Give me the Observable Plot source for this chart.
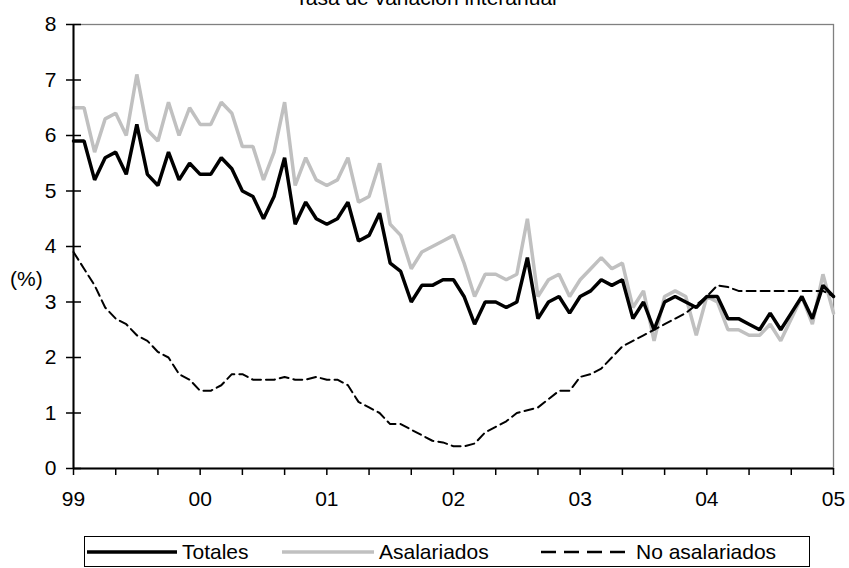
<!DOCTYPE html>
<html>
<head>
<meta charset="utf-8">
<script src="https://cdn.jsdelivr.net/npm/d3@7"></script>
<script src="https://cdn.jsdelivr.net/npm/@observablehq/plot@0.6"></script>
<style>
  html, body { margin: 0; padding: 0; background: white; }
  body { width: 849px; height: 568px; position: relative; overflow: hidden; font-family: "Liberation Sans", Arial, sans-serif; color: black; }
  #chart { position: absolute; left: 0; top: 0; }
  .abs { position: absolute; white-space: nowrap; line-height: 1; }
</style>
</head>
<body>
<div id="chart"></div>
<div class="abs" id="title" style="left:0; width:852px; text-align:center; top:-13px; font-size:21px;">Tasa de variación interanual</div>
<div class="abs" id="ylab" style="left:10px; top:268px; font-size:21px;">(%)</div>
<div id="legend" style="position:absolute; left:84px; top:536px; width:724px; height:29px; border:1px solid black; background:white;"></div>
<script>
// Monthly values, Jan 1999 .. Jan 2005 (73 months)
const yearLabels = ["99", "00", "01", "02", "03", "04", "05"];
const yTicks = [0, 1, 2, 3, 4, 5, 6, 7, 8];
const seriesNames = ["Totales", "Asalariados", "No asalariados"];

const totales = [
  5.9, 5.9, 5.2, 5.6, 5.7, 5.3, 6.2, 5.3, 5.1, 5.7, 5.2, 5.5,
  5.3, 5.3, 5.6, 5.4, 5.0, 4.9, 4.5, 4.9, 5.6, 4.4, 4.8, 4.5,
  4.4, 4.5, 4.8, 4.1, 4.2, 4.6, 3.7, 3.55, 3.0, 3.3, 3.3, 3.4,
  3.4, 3.1, 2.6, 3.0, 3.0, 2.9, 3.0, 3.8, 2.7, 3.0, 3.1, 2.8,
  3.1, 3.2, 3.4, 3.3, 3.4, 2.7, 3.0, 2.5, 3.0, 3.1, 3.0, 2.9,
  3.1, 3.1, 2.7, 2.7, 2.6, 2.5, 2.8, 2.5, 2.8, 3.1, 2.7, 3.3,
  3.1
];
const asalariados = [
  6.5, 6.5, 5.7, 6.3, 6.4, 6.0, 7.1, 6.1, 5.9, 6.6, 6.0, 6.5,
  6.2, 6.2, 6.6, 6.4, 5.8, 5.8, 5.2, 5.7, 6.6, 5.1, 5.6, 5.2,
  5.1, 5.2, 5.6, 4.8, 4.9, 5.5, 4.4, 4.2, 3.6, 3.9, 4.0, 4.1,
  4.2, 3.7, 3.1, 3.5, 3.5, 3.4, 3.5, 4.5, 3.1, 3.4, 3.5, 3.1,
  3.4, 3.6, 3.8, 3.6, 3.7, 2.9, 3.2, 2.3, 3.1, 3.2, 3.1, 2.4,
  3.1, 3.0, 2.5, 2.5, 2.4, 2.4, 2.6, 2.3, 2.7, 3.1, 2.6, 3.5,
  2.8
];
const noAsalariados = [
  3.9, 3.6, 3.3, 2.9, 2.7, 2.6, 2.4, 2.3, 2.1, 2.0, 1.7, 1.6,
  1.4, 1.4, 1.5, 1.7, 1.7, 1.6, 1.6, 1.6, 1.65, 1.6, 1.6, 1.65,
  1.6, 1.6, 1.5, 1.2, 1.1, 1.0, 0.8, 0.8, 0.7, 0.6, 0.5, 0.47,
  0.4, 0.4, 0.45, 0.65, 0.75, 0.85, 1.0, 1.05, 1.1, 1.25, 1.4, 1.4,
  1.65, 1.7, 1.8, 2.0, 2.2, 2.3, 2.4, 2.5, 2.6, 2.7, 2.8, 2.95,
  3.1, 3.3, 3.27, 3.2, 3.2, 3.2, 3.2, 3.2, 3.2, 3.2, 3.2, 3.2,
  3.1
];

const rows = totales.map((v, i) => ({i, tot: v, asal: asalariados[i], noasal: noAsalariados[i]}));
const nMonths = totales.length - 1;
const xTicks = d3.range(0, nMonths + 1, 4);

const W = 849, ML = 73, MR = 16;
const plotW = W - ML - MR;

const chart = Plot.plot({
  width: W,
  height: 520,
  marginLeft: ML,
  marginRight: MR,
  marginTop: 24,
  marginBottom: 52,
  style: {fontFamily: "'Liberation Sans', Arial, sans-serif", fontSize: "21px", color: "black", background: "white", overflow: "visible"},
  x: {domain: [0, nMonths]},
  y: {domain: [0, 8]},
  marks: [
    Plot.frame({stroke: "#808080", strokeWidth: 1.3}),
    Plot.line(rows, {x: "i", y: "asal", stroke: "#c0c0c0", strokeWidth: 3.5, strokeLinejoin: "miter"}),
    Plot.line(rows, {x: "i", y: "tot", stroke: "black", strokeWidth: 3.5, strokeLinejoin: "miter"}),
    Plot.line(rows, {x: "i", y: "noasal", stroke: "black", strokeWidth: 2, strokeDasharray: "9,5"}),
    Plot.ruleX([0], {stroke: "black", strokeWidth: 2}),
    Plot.ruleY([0], {stroke: "black", strokeWidth: 2}),
    Plot.axisX({
      ticks: xTicks, tickSize: 7, tickPadding: 16, strokeWidth: 1.5, label: null,
      tickFormat: d => (d % 12 === 0 ? yearLabels[d / 12] : "")
    }),
    Plot.axisY({ticks: yTicks, tickSize: 7, tickPadding: 10, strokeWidth: 1.5, label: null, tickFormat: d => String(d)}),
    Plot.tickY(yTicks, {y: d => d, stroke: "black", strokeWidth: 1.5, insetRight: plotW - 8})
  ]
});
document.getElementById("chart").appendChild(chart);

// Legend
const legend = document.getElementById("legend");
const items = [
  {name: seriesNames[0], stroke: "black", width: 3.5, dash: null, x0: 2, len: 90, tx: 97},
  {name: seriesNames[1], stroke: "#c0c0c0", width: 3.5, dash: null, x0: 197, len: 92, tx: 294},
  {name: seriesNames[2], stroke: "black", width: 2.5, dash: "15,8", x0: 456, len: 91, tx: 551}
];
for (const it of items) {
  const svg = d3.create("svg").attr("width", it.len).attr("height", 10)
    .style("position", "absolute").style("left", it.x0 + "px").style("top", "10px");
  svg.append("line").attr("x1", 0).attr("x2", it.len).attr("y1", 5).attr("y2", 5)
    .attr("stroke", it.stroke).attr("stroke-width", it.width)
    .attr("stroke-dasharray", it.dash);
  legend.appendChild(svg.node());
  const t = document.createElement("div");
  t.className = "abs";
  t.style.left = it.tx + "px";
  t.style.top = "4px";
  t.style.fontSize = "21px";
  t.textContent = it.name;
  legend.appendChild(t);
}
</script>
</body>
</html>
